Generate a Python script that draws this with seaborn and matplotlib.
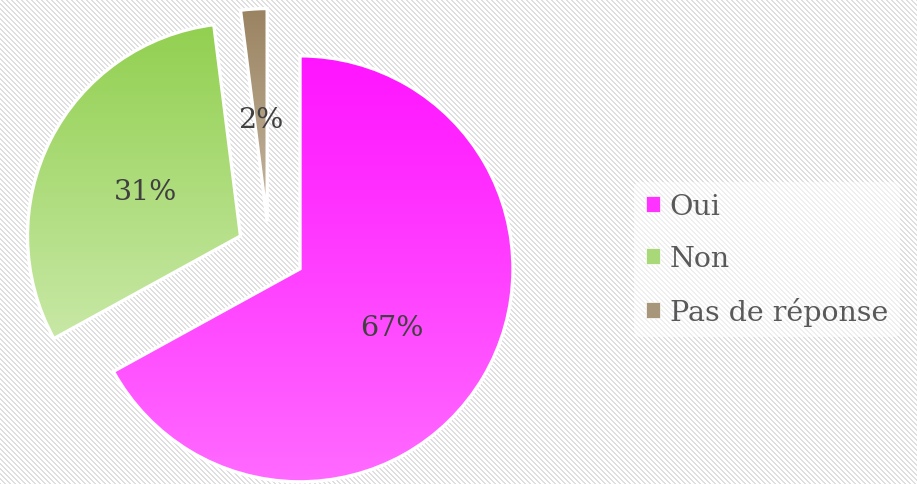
import numpy as np
import matplotlib
matplotlib.use("Agg")
import matplotlib.pyplot as plt
import seaborn as sns
from matplotlib.patches import Patch
from matplotlib.colors import LinearSegmentedColormap

sns.set_theme(style="white")
plt.rcParams["font.family"] = ["DejaVu Serif", "DejaVu Sans"]

labels = ["Oui", "Non", "Pas de réponse"]
values = [67, 31, 2]
top_colors = ["#FF14FF", "#92D050", "#9A8361"]
bottom_colors = ["#FF6AFF", "#C8E8A6", "#C6B8A2"]

W, H = 917, 485
R = 213
# explode offsets in pixels (matplotlib uses data units)
explode = [36, 32, 29]

fig = plt.figure(figsize=(W / 100, H / 100), dpi=100)

# diagonal striped background
yy, xx = np.mgrid[0:H, 0:W]
stripes = ((xx - yy) % 5) < 2
bg = np.where(stripes, 0.875, 1.0)
bg = np.dstack([bg, bg, bg])
fig.figimage(bg, xo=0, yo=0, origin="upper", zorder=-1)

ax = fig.add_axes([0, 0, 1, 1])
ax.set_xlim(0, W)
ax.set_ylim(0, H)
ax.set_aspect("equal")
ax.axis("off")
ax.patch.set_alpha(0)

wedges, texts, autotexts = ax.pie(
    values, explode=explode, startangle=90, counterclock=False,
    center=(269, H - 251.5), radius=R, autopct="%1.0f%%", pctdistance=0.5,
    wedgeprops=dict(edgecolor="white", linewidth=2.4, facecolor="none"),
    textprops=dict(fontsize=20.5, color="#404040"))

for w, c_top, c_bot in zip(wedges, top_colors, bottom_colors):
    v = w.get_path().vertices
    x0, x1 = v[:, 0].min(), v[:, 0].max()
    y0, y1 = v[:, 1].min(), v[:, 1].max()
    cmap = LinearSegmentedColormap.from_list("g", [c_top, c_bot])
    grad = np.linspace(0, 1, 256).reshape(-1, 1)
    im = ax.imshow(grad, cmap=cmap, extent=(x0, x1, y0, y1), origin="upper",
                   aspect="auto", zorder=1)
    im.set_clip_path(w)
    w.set_zorder(2)
for t in autotexts:
    x, y = t.get_position()
    t.set_position((x, y - 4))
    t.set_zorder(3)

ax.set_xlim(0, W)
ax.set_ylim(0, H)

handles = [Patch(facecolor=c, edgecolor="white", linewidth=0.5)
           for c in ["#FF33FF", "#A8D878", "#A8967A"]]
leg = fig.legend(handles, labels, loc="center left",
                 bbox_to_anchor=(620 / W, 1 - 260.5 / H), fontsize=20.5,
                 frameon=True, facecolor="white", framealpha=0.5,
                 edgecolor="none", handlelength=0.5, handleheight=0.5,
                 handletextpad=0.35, labelspacing=0.87, borderpad=0.4)
for t in leg.get_texts():
    t.set_color("#595959")

fig.savefig("out.png", dpi=100)
